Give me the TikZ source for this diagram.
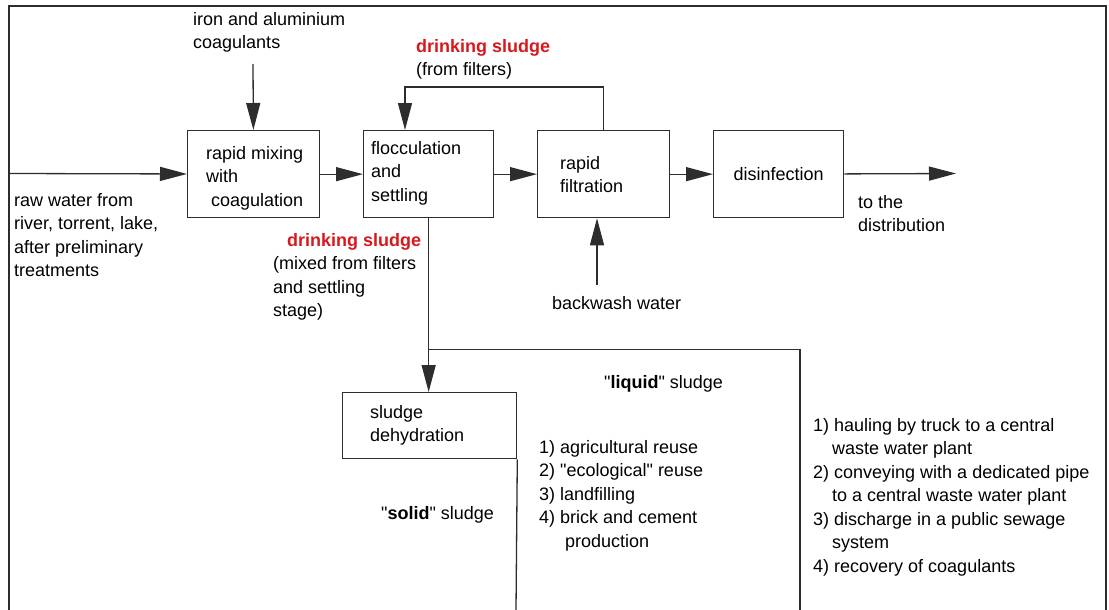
\documentclass[tikz,border=0pt]{standalone}
\usepackage{fontspec}
\setmainfont{Liberation Sans}[Ligatures=TeXOff]
\usetikzlibrary{arrows.meta}
\definecolor{sludgered}{RGB}{215,25,30}
\definecolor{pipegray}{RGB}{45,45,45}

\begin{document}
\begin{tikzpicture}[x=1pt,y=-1pt,
    font=\fontsize{18}{23.5}\selectfont,
    stage/.style={draw=pipegray,line width=1.3pt,anchor=north west,inner sep=0pt,
                  minimum width=132pt,minimum height=87pt},
    note/.style={anchor=north west,inner sep=0pt,align=left},
    pipe/.style={draw=pipegray,line width=1.3pt},
    flow/.style={pipe,-{Triangle[length=27pt,width=14pt]}}]

            %\draw [help lines] (0,0) grid[step=50] (1109,610);
            \useasboundingbox (0,0) rectangle (1109,610);
            \draw[pipe] (9,610) |- (1106,6) -- (1106,610);

            \path   (187,130) node (mix)  [stage] {}
                    (363,130) node (floc) [stage,minimum width=130pt] {}
                    (537,130) node (filt) [stage] {}
                    (713,130) node (dis)  [stage,minimum width=130pt] {disinfection}
                    (342,392) node (dehy) [stage,minimum width=174pt,minimum height=66pt] {};

            \path   (193,12)  node (coagtxt) [note] {iron and aluminium\\coagulants}
                    (416,39)  node (filtsludge) [note] {\textcolor{sludgered}{\textbf{drinking sludge}}\\(from filters)}
                    (206,146) node (mixtxt) [note] {rapid mixing\\with\\\hspace*{5pt}coagulation}
                    (371,141) node (floctxt) [note] {flocculation\\and\\settling}
                    (560,156) node (filttxt) [note] {rapid\\filtration}
                    (858,195) node (outtxt) [note] {to the\\distribution}
                    (14,193)  node (rawtxt) [note] {raw water from\\river, torrent, lake,\\after preliminary\\treatments}
                    (273,233) node (mixsludge) [note] {\hspace*{14pt}\textcolor{sludgered}{\textbf{drinking sludge}}\\(mixed from filters\\and settling\\stage)}
                    (552,296) node (washtxt) [note] {backwash water}
                    (604,375) node (liqtxt) [note] {"\textbf{liquid}" sludge}
                    (370,405) node (dehytxt) [note] {sludge\\dehydration}
                    (381,506) node (soltxt) [note] {"\textbf{solid}" sludge}
                    (539,440) node (solidlist) [note] {1) agricultural reuse\\2) "ecological" reuse\\3) landfilling\\4) brick and cement\\\hspace*{26pt}production}
                    (813,418) node (liquidlist) [note] {1) hauling by truck to a central\\\hspace*{19pt}waste water plant\\2) conveying with a dedicated pipe\\\hspace*{19pt}to a central waste water plant\\3) discharge in a public sewage\\\hspace*{19pt}system\\4) recovery of coagulants};

            \coordinate (rawin) at (9,173.5);
            \coordinate (distout) at (956,173.5);
            \coordinate (coagin) at (253,64);
            \coordinate (washin) at (597,285);
            \coordinate (liquid) at (800,610);
            \coordinate (solid) at (516,610);
            \path (floc.south) ++(0,131) coordinate (split);

            \draw[flow] (rawin) -- (node cs:name=mix);
            \draw[flow] (node cs:name=mix) -- (node cs:name=floc);
            \draw[flow] (node cs:name=floc) -- (node cs:name=filt);
            \draw[flow] (node cs:name=filt) -- (node cs:name=dis);
            \draw[flow] (node cs:name=dis) -- (distout);
            \draw[flow] (coagin) -- (node cs:name=mix);
            \draw[flow] (washin) -- (washin |- filt.south);
            \draw[flow] (filt.north) -- ++(0,-43) -| ([xshift=42pt]floc.north west);
            \draw[flow] (floc.south) -- (floc.south |- dehy.north);
            \draw[pipe] (split) -| (liquid);
            \draw[pipe] (dehy.south east) -- (solid);
        \end{tikzpicture}
\end{document}
